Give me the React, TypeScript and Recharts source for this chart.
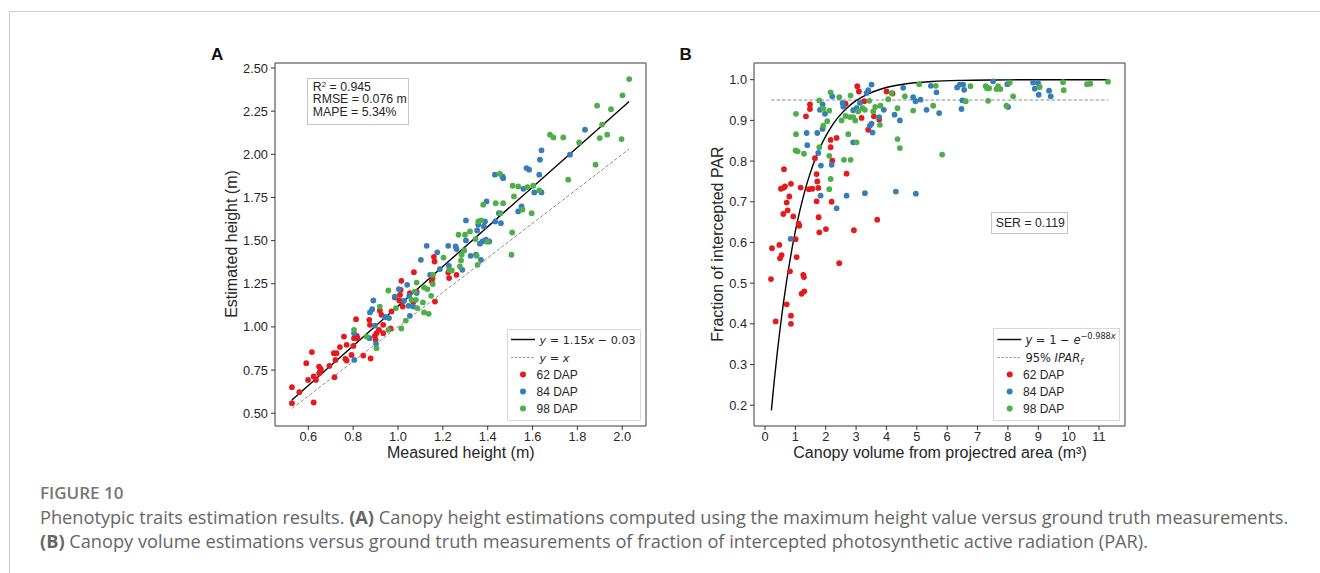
import React from 'react';
import { ComposedChart, Scatter, Line, XAxis, YAxis, ReferenceArea, Legend } from 'recharts';

const RED = '#e41a1c';
const BLUE = '#377eb8';
const GREEN = '#4daf4a';
const AXIS_FONT = '"Liberation Sans", Arial, sans-serif';
const MATH_FONT = '"DejaVu Sans", sans-serif';

// ---------- Panel A: measured height (m) vs estimated height (m) ----------
const heightDap62: [number, number][] = [
  [0.527, 0.651], [0.527, 0.558], [0.560, 0.622], [0.591, 0.790], [0.599, 0.693], [0.616, 0.854],
  [0.624, 0.713], [0.624, 0.562], [0.634, 0.693], [0.648, 0.770], [0.652, 0.742], [0.656, 0.755],
  [0.649, 0.732], [0.694, 0.774], [0.714, 0.848], [0.717, 0.709], [0.721, 0.809], [0.726, 0.848],
  [0.741, 0.883], [0.759, 0.944], [0.765, 0.815], [0.771, 0.896], [0.771, 0.805], [0.793, 0.838],
  [0.801, 0.890], [0.804, 0.935], [0.813, 1.045], [0.816, 0.948], [0.819, 0.935], [0.845, 0.834],
  [0.872, 1.041], [0.875, 1.012], [0.878, 0.817], [0.897, 0.948], [0.900, 0.925], [0.904, 0.964],
  [0.915, 0.983], [0.919, 1.095], [0.926, 1.070], [0.934, 1.012], [0.934, 0.964], [0.967, 0.991],
  [0.971, 1.090], [0.986, 1.171], [1.006, 1.153], [1.009, 1.186], [1.012, 1.215], [1.015, 1.267],
  [1.018, 1.147], [1.021, 1.118], [1.053, 1.196], [1.068, 1.144], [1.071, 1.317], [1.083, 1.205],
  [1.151, 1.263], [1.154, 1.283], [1.160, 1.406], [1.163, 1.379], [1.165, 1.147], [1.224, 1.315],
  [1.228, 1.283], [1.261, 1.302],
];
const heightDap84: [number, number][] = [
  [0.804, 0.964], [0.805, 0.809], [0.873, 0.935], [0.875, 1.084], [0.885, 1.103], [0.890, 1.153],
  [0.897, 1.008], [0.902, 0.902], [0.942, 1.057], [0.949, 1.057], [0.960, 1.051], [0.986, 1.176],
  [1.004, 1.219], [1.027, 1.151], [1.041, 1.244], [1.047, 1.122], [1.050, 1.180], [1.053, 1.064],
  [1.068, 1.118], [1.083, 1.196], [1.102, 1.389], [1.128, 1.470], [1.143, 1.302], [1.175, 1.432],
  [1.187, 1.335], [1.224, 1.470], [1.227, 1.354], [1.257, 1.466], [1.261, 1.451], [1.287, 1.331],
  [1.303, 1.617], [1.303, 1.501], [1.324, 1.412], [1.348, 1.418], [1.353, 1.559], [1.358, 1.592],
  [1.365, 1.482], [1.370, 1.389], [1.383, 1.582], [1.388, 1.611], [1.377, 1.495], [1.392, 1.505],
  [1.395, 1.727], [1.407, 1.495], [1.432, 1.882], [1.434, 1.611], [1.450, 1.659], [1.459, 1.601],
  [1.466, 1.872], [1.469, 1.862], [1.536, 1.669], [1.551, 1.698], [1.559, 1.800], [1.573, 1.920],
  [1.585, 1.911], [1.608, 1.779], [1.630, 1.882], [1.633, 1.969], [1.640, 2.023], [1.640, 1.779],
  [1.767, 1.998], [1.834, 2.143],
];
const heightDap98: [number, number][] = [
  [0.804, 0.983], [0.860, 0.944], [0.904, 0.877], [0.919, 1.118], [0.957, 1.211], [0.957, 0.983],
  [0.991, 1.109], [1.015, 0.991], [1.035, 1.037], [1.060, 1.157], [1.074, 1.205], [1.080, 1.157],
  [1.083, 1.257], [1.086, 1.109], [1.111, 1.142], [1.116, 1.229], [1.116, 1.084], [1.131, 1.219],
  [1.137, 1.076], [1.148, 1.180], [1.155, 1.248], [1.156, 1.302], [1.203, 1.402], [1.228, 1.331],
  [1.240, 1.327], [1.270, 1.534], [1.276, 1.350], [1.281, 1.385], [1.284, 1.418], [1.295, 1.443],
  [1.299, 1.534], [1.321, 1.553], [1.346, 1.509], [1.351, 1.412], [1.355, 1.360], [1.358, 1.611],
  [1.370, 1.617], [1.380, 1.708], [1.398, 1.493], [1.436, 1.717], [1.454, 1.888], [1.457, 1.659],
  [1.469, 1.717], [1.506, 1.418], [1.509, 1.547], [1.511, 1.818], [1.517, 1.756], [1.536, 1.814],
  [1.555, 1.679], [1.577, 1.810], [1.596, 1.659], [1.603, 1.818], [1.630, 1.791], [1.678, 2.114],
  [1.693, 2.098], [1.737, 2.098], [1.759, 1.853], [1.808, 2.069], [1.881, 1.940], [1.888, 2.282],
  [1.900, 2.094], [1.910, 2.172], [1.933, 2.114], [1.950, 2.261], [1.997, 2.088], [2.001, 2.342],
  [2.031, 2.436],
];
const fitSlopeA = 1.15;
const fitInterceptA = -0.03;
const fitRangeA = [0.527, 2.031];
const xTicksA = [0.6, 0.8, 1.0, 1.2, 1.4, 1.6, 1.8, 2.0];
const yTicksA = [0.5, 0.75, 1.0, 1.25, 1.5, 1.75, 2.0, 2.25, 2.5];
const xDomainA: [number, number] = [0.4515, 2.106];
const yDomainA: [number, number] = [0.426, 2.529];

// ---------- Panel B: canopy volume (m³) vs fraction of intercepted PAR ----------
const parDap62: [number, number][] = [
  [0.197, 0.510], [0.230, 0.586], [0.351, 0.406], [0.472, 0.594], [0.494, 0.561], [0.548, 0.569],
  [0.526, 0.732], [0.625, 0.735], [0.625, 0.780], [0.603, 0.670], [0.658, 0.738], [0.713, 0.698],
  [0.713, 0.448], [0.746, 0.679], [0.801, 0.713], [0.823, 0.529], [0.855, 0.744], [0.855, 0.420],
  [0.855, 0.400], [0.932, 0.664], [1.009, 0.608], [1.042, 0.564], [1.108, 0.646], [1.130, 0.641],
  [1.174, 0.735], [1.206, 0.474], [1.261, 0.520], [1.283, 0.515], [1.294, 0.480], [1.349, 0.910],
  [1.448, 0.731], [1.481, 0.939], [1.481, 0.928], [1.558, 0.732], [1.645, 0.807], [1.700, 0.768],
  [1.700, 0.701], [1.722, 0.750], [1.755, 0.734], [1.766, 0.662], [1.788, 0.625], [2.007, 0.633],
  [2.161, 0.834], [2.161, 0.852], [2.194, 0.700], [2.215, 0.801], [2.358, 0.857], [2.446, 0.549],
  [2.654, 0.941], [2.687, 0.769], [2.928, 0.630], [3.038, 0.984], [3.093, 0.971], [3.181, 0.906],
  [3.268, 0.947], [3.400, 0.877], [3.587, 0.910], [3.696, 0.656], [3.762, 0.902], [4.003, 0.971],
  [4.200, 0.966],
];
const parDap84: [number, number][] = [
  [0.844, 0.609], [1.371, 0.869], [1.393, 0.839], [1.722, 0.869], [1.755, 0.820], [1.810, 0.926],
  [1.832, 0.715], [1.842, 0.789], [1.897, 0.939], [1.897, 0.879], [1.974, 0.916], [2.194, 0.791],
  [2.215, 0.959], [2.358, 0.684], [2.555, 0.943], [2.577, 0.934], [2.687, 0.715], [2.906, 0.846],
  [2.906, 0.925], [3.016, 0.930], [3.126, 0.943], [3.290, 0.721], [3.345, 0.967], [3.400, 0.974],
  [3.455, 0.887], [3.510, 0.892], [3.510, 0.988], [3.543, 0.870], [3.762, 0.908], [3.915, 0.926],
  [4.266, 0.914], [4.310, 0.725], [4.442, 0.900], [4.551, 0.980], [4.880, 0.957], [4.957, 0.947],
  [4.968, 0.720], [5.122, 0.951], [5.319, 0.926], [5.462, 0.985], [5.648, 0.969], [5.736, 0.918],
  [6.328, 0.981], [6.416, 0.988], [6.471, 0.928], [6.526, 0.988], [6.559, 0.975], [6.504, 0.949],
  [7.513, 0.996], [7.984, 0.989], [8.006, 0.933], [8.829, 0.993], [8.884, 0.978], [8.993, 0.992],
  [9.015, 0.963], [9.355, 0.973], [9.410, 0.959],
];
const parDap98: [number, number][] = [
  [1.020, 0.916], [1.020, 0.866], [1.009, 0.826], [1.075, 0.824], [1.283, 0.818], [1.788, 0.949],
  [1.788, 0.834], [1.919, 0.929], [1.919, 0.887], [2.051, 0.898], [2.117, 0.924], [2.117, 0.813],
  [2.117, 0.731], [2.161, 0.969], [2.161, 0.756], [2.446, 0.957], [2.523, 0.900], [2.599, 0.803],
  [2.654, 0.911], [2.742, 0.866], [2.797, 0.908], [2.819, 0.961], [2.819, 0.803], [2.906, 0.908],
  [2.972, 0.900], [3.016, 0.846], [3.071, 0.922], [3.214, 0.930], [3.290, 0.926], [3.433, 0.948],
  [3.565, 0.922], [3.631, 0.933], [3.784, 0.889], [3.806, 0.936], [4.058, 0.952], [4.168, 0.967],
  [4.365, 0.930], [4.365, 0.854], [4.442, 0.832], [4.606, 0.959], [4.880, 0.924], [5.078, 0.989],
  [5.539, 0.936], [5.626, 0.985], [5.835, 0.816], [6.613, 0.947], [6.767, 0.984], [7.271, 0.984],
  [7.315, 0.979], [7.348, 0.948], [7.381, 0.979], [7.622, 0.977], [7.677, 0.984], [7.754, 0.977],
  [7.951, 0.936], [8.061, 0.993], [8.171, 0.959], [9.048, 0.982], [9.816, 0.994], [9.838, 0.974],
  [10.605, 0.989], [10.715, 0.990], [11.296, 0.995],
];
const fitRateB = 0.988;
const fitSampleXB = [0.21, 0.3, 0.4, 0.5, 0.6, 0.7, 0.8, 0.9, 1.0, 1.15, 1.3, 1.5, 1.7, 1.9, 2.1, 2.4, 2.7, 3.0, 3.4, 3.8, 4.3, 4.8, 5.5, 6.5, 7.5, 8.5, 9.5, 10.5, 11.3];
const ipar95Level = 0.95;
const ipar95Range = [0.2, 11.3];
const xTicksB = [0, 1, 2, 3, 4, 5, 6, 7, 8, 9, 10, 11];
const yTicksB = [0.2, 0.3, 0.4, 0.5, 0.6, 0.7, 0.8, 0.9, 1.0];
const xDomainB: [number, number] = [-0.362, 11.856];
const yDomainB: [number, number] = [0.149, 1.041];

// ---------- derived tables ----------
const toPts = (arr: [number, number][]) => arr.map(([x, y]) => ({ x, y }));
const fitLineA = fitRangeA.map((x) => ({ x, y: fitSlopeA * x + fitInterceptA }));
const identityA = fitRangeA.map((x) => ({ x, y: x }));
const fitCurveB = fitSampleXB.map((x) => ({ x, y: 1 - Math.exp(-fitRateB * x) }));
const iparLineB = ipar95Range.map((x) => ({ x, y: ipar95Level }));

const dot = (color: string) => (p: any) =>
  p.cx == null ? <g /> : <circle cx={p.cx} cy={p.cy} r={2.9} fill={color} />;

const tickStyle = { fill: '#262626', fontSize: 12.8, fontFamily: AXIS_FONT };

const LegendA = () => (
  <svg width={134} height={92} style={{ display: 'block' }}>
    <rect x={0.5} y={0.5} width={133} height={91} fill="#ffffff" fillOpacity={0.85} stroke="#d8d8d8" />
    <line x1={4} x2={28} y1={10.5} y2={10.5} stroke="#111" strokeWidth={1.5} />
    <text x={32.6} y={14.5} fontFamily={MATH_FONT} fontSize={11.2} fill="#262626" style={{ whiteSpace: 'pre' }}>
      <tspan fontStyle="italic">y</tspan>{' = 1.15'}<tspan fontStyle="italic">x</tspan>{' − 0.03'}
    </text>
    <line x1={4} x2={28} y1={28.5} y2={28.5} stroke="#999" strokeWidth={1} strokeDasharray="2.5 1.5" />
    <text x={32.6} y={32.5} fontFamily={MATH_FONT} fontSize={11.2} fill="#262626" style={{ whiteSpace: 'pre' }}>
      <tspan fontStyle="italic">y</tspan>{' = '}<tspan fontStyle="italic">x</tspan>
    </text>
    <circle cx={16} cy={45.5} r={3} fill={RED} />
    <circle cx={16} cy={62.5} r={3} fill={BLUE} />
    <circle cx={16} cy={79.5} r={3} fill={GREEN} />
    <text x={29.5} y={49.8} fontFamily={AXIS_FONT} fontSize={12} fill="#262626">62 DAP</text>
    <text x={29.5} y={66.8} fontFamily={AXIS_FONT} fontSize={12} fill="#262626">84 DAP</text>
    <text x={29.5} y={83.8} fontFamily={AXIS_FONT} fontSize={12} fill="#262626">98 DAP</text>
  </svg>
);

const LegendB = () => (
  <svg width={127} height={93} style={{ display: 'block' }}>
    <rect x={0.5} y={0.5} width={126} height={92} fill="#ffffff" fillOpacity={0.85} stroke="#d8d8d8" />
    <line x1={4.4} x2={28.4} y1={11.5} y2={11.5} stroke="#111" strokeWidth={1.5} />
    <text x={32.4} y={15.5} fontFamily={MATH_FONT} fontSize={11.5} fill="#262626" style={{ whiteSpace: 'pre' }}>
      <tspan fontStyle="italic">y</tspan>{' = 1 − '}<tspan fontStyle="italic">e</tspan>
      <tspan fontSize={8.2} dy={-5}>{'−0.988'}</tspan><tspan fontSize={8.2} fontStyle="italic">x</tspan>
    </text>
    <line x1={4.4} x2={28.4} y1={29.5} y2={29.5} stroke="#999" strokeWidth={1} strokeDasharray="2.5 1.5" />
    <text x={32.4} y={33.5} fontFamily={MATH_FONT} fontSize={11.5} fill="#262626" style={{ whiteSpace: 'pre' }}>
      {'95% '}<tspan fontStyle="italic">IPAR</tspan><tspan fontStyle="italic" fontSize={8.2} dy={3}>f</tspan>
    </text>
    <circle cx={16.7} cy={46.5} r={3} fill={RED} />
    <circle cx={16.7} cy={63.5} r={3} fill={BLUE} />
    <circle cx={16.7} cy={80.5} r={3} fill={GREEN} />
    <text x={30} y={50.8} fontFamily={AXIS_FONT} fontSize={12} fill="#262626">62 DAP</text>
    <text x={30} y={67.8} fontFamily={AXIS_FONT} fontSize={12} fill="#262626">84 DAP</text>
    <text x={30} y={84.8} fontFamily={AXIS_FONT} fontSize={12} fill="#262626">98 DAP</text>
  </svg>
);

const abs = (left: number, top: number, extra: React.CSSProperties = {}): React.CSSProperties => ({
  position: 'absolute',
  left,
  top,
  ...extra,
});

const axisTitle: React.CSSProperties = {
  fontFamily: AXIS_FONT,
  fontSize: 16,
  color: '#262626',
  whiteSpace: 'nowrap',
  lineHeight: '18px',
};

export default function App() {
  return (
    <div style={{ position: 'absolute', left: 0, top: 0, width: 1320, height: 573, background: '#fff', overflow: 'hidden' }}>
      {/* card border */}
      <div style={abs(9, 11, { width: 1320, height: 600, borderTop: '1px solid #cccccc', borderLeft: '1px solid #cccccc' })} />

      {/* Panel A */}
      <div style={abs(200, 40)}>
        <ComposedChart width={460} height={430} margin={{ top: 23, right: 14, bottom: 0, left: 15 }}>
          <XAxis
            type="number" dataKey="x" domain={xDomainA} ticks={xTicksA} allowDataOverflow interval={0}
            tickFormatter={(v: number) => v.toFixed(1)} height={44} axisLine={false}
            tickSize={4} tickMargin={2} tickLine={{ stroke: '#333' }} tick={tickStyle}
          />
          <YAxis
            type="number" dataKey="y" domain={yDomainA} ticks={yTicksA} allowDataOverflow interval={0}
            tickFormatter={(v: number) => v.toFixed(2)} width={60} axisLine={false}
            tickSize={4} tickMargin={3} tickLine={{ stroke: '#333' }} tick={tickStyle}
          />
          <Scatter name="62 DAP" data={toPts(heightDap62)} fill={RED} shape={dot(RED)} isAnimationActive={false} />
          <Scatter name="84 DAP" data={toPts(heightDap84)} fill={BLUE} shape={dot(BLUE)} isAnimationActive={false} />
          <Scatter name="98 DAP" data={toPts(heightDap98)} fill={GREEN} shape={dot(GREEN)} isAnimationActive={false} />
          <Line data={identityA} dataKey="y" type="linear" stroke="#8c8c8c" strokeWidth={1} strokeDasharray="3.5 2" dot={false} activeDot={false} isAnimationActive={false} />
          <Line data={fitLineA} dataKey="y" type="linear" stroke="#000" strokeWidth={1.4} dot={false} activeDot={false} isAnimationActive={false} />
          <ReferenceArea x1={xDomainA[0]} x2={xDomainA[1]} y1={yDomainA[0]} y2={yDomainA[1]} fill="none" fillOpacity={0} stroke="#3a3a3a" strokeWidth={1} ifOverflow="visible" />
          <Legend
            layout="horizontal" verticalAlign="middle" align="center" content={LegendA}
            wrapperStyle={{ left: 306.5, top: 289, width: 134, height: 92, bottom: 'auto' }}
          />
        </ComposedChart>
      </div>

      {/* Panel B */}
      <div style={abs(680, 40)}>
        <ComposedChart width={460} height={430} margin={{ top: 23, right: 15, bottom: 0, left: 14 }}>
          <XAxis
            type="number" dataKey="x" domain={xDomainB} ticks={xTicksB} allowDataOverflow interval={0}
            height={44} axisLine={false}
            tickSize={4} tickMargin={2} tickLine={{ stroke: '#333' }} tick={tickStyle}
          />
          <YAxis
            type="number" dataKey="y" domain={yDomainB} ticks={yTicksB} allowDataOverflow interval={0}
            tickFormatter={(v: number) => v.toFixed(1)} width={60} axisLine={false}
            tickSize={4} tickMargin={3} tickLine={{ stroke: '#333' }} tick={tickStyle}
          />
          <Scatter name="62 DAP" data={toPts(parDap62)} fill={RED} shape={dot(RED)} isAnimationActive={false} />
          <Scatter name="84 DAP" data={toPts(parDap84)} fill={BLUE} shape={dot(BLUE)} isAnimationActive={false} />
          <Scatter name="98 DAP" data={toPts(parDap98)} fill={GREEN} shape={dot(GREEN)} isAnimationActive={false} />
          <Line data={iparLineB} dataKey="y" type="linear" stroke="#8c8c8c" strokeWidth={1} strokeDasharray="3.5 2" dot={false} activeDot={false} isAnimationActive={false} />
          <Line data={fitCurveB} dataKey="y" type="monotone" stroke="#000" strokeWidth={1.4} dot={false} activeDot={false} isAnimationActive={false} />
          <ReferenceArea x1={xDomainB[0]} x2={xDomainB[1]} y1={yDomainB[0]} y2={yDomainB[1]} fill="none" fillOpacity={0} stroke="#3a3a3a" strokeWidth={1} ifOverflow="visible" />
          <Legend
            layout="horizontal" verticalAlign="middle" align="center" content={LegendB}
            wrapperStyle={{ left: 313, top: 288, width: 127, height: 93, bottom: 'auto' }}
          />
        </ComposedChart>
      </div>

      {/* Panel labels */}
      <div style={abs(211, 45.5, { fontFamily: AXIS_FONT, fontWeight: 700, fontSize: 17, lineHeight: '17px', color: '#111' })}>A</div>
      <div style={abs(679.5, 45.5, { fontFamily: AXIS_FONT, fontWeight: 700, fontSize: 17, lineHeight: '17px', color: '#111' })}>B</div>

      {/* Axis titles */}
      <div style={abs(460.8, 453.3, { ...axisTitle, transform: 'translate(-50%, -50%)' })}>Measured height (m)</div>
      <div style={abs(231.7, 244, { ...axisTitle, transform: 'translate(-50%, -50%) rotate(-90deg)' })}>Estimated height (m)</div>
      <div style={abs(940, 453.3, { ...axisTitle, transform: 'translate(-50%, -50%)' })}>Canopy volume from projectred area (m³)</div>
      <div style={abs(718.3, 244, { ...axisTitle, transform: 'translate(-50%, -50%) rotate(-90deg)' })}>Fraction of intercepted PAR</div>

      {/* Stats boxes */}
      <div style={abs(307.3, 77.7, { width: 101.7, height: 47.3, boxSizing: 'border-box', border: '1px solid #c4c4c4', background: '#fff', padding: '2px 0 0 4.5px', fontFamily: AXIS_FONT, fontSize: 12.3, lineHeight: '12.8px', color: '#262626', whiteSpace: 'nowrap' })}>
        <div>R<span style={{ fontSize: 8, verticalAlign: 'top', lineHeight: '8px' }}>2</span> = 0.945</div>
        <div>RMSE = 0.076 m</div>
        <div>MAPE = 5.34%</div>
      </div>
      <div style={abs(990.7, 212.3, { width: 77.6, height: 21.7, boxSizing: 'border-box', border: '1px solid #c4c4c4', background: '#fff', padding: '3px 0 0 4px', fontFamily: AXIS_FONT, fontSize: 12.3, lineHeight: '14px', color: '#262626', whiteSpace: 'nowrap' })}>
        SER = 0.119
      </div>

      {/* Caption */}
      <div style={abs(40, 482.5, { fontFamily: '"Open Sans", sans-serif', fontWeight: 600, fontSize: 17, lineHeight: '20px', color: '#767676' })}>FIGURE 10</div>
      <div style={abs(40, 505, { fontFamily: '"Open Sans", sans-serif', fontSize: 18.2, lineHeight: '24px', color: '#666666', whiteSpace: 'nowrap' })}>
        Phenotypic traits estimation results. <b style={{ fontWeight: 700 }}>(A)</b> Canopy height estimations computed using the maximum height value versus ground truth measurements.
        <br />
        <b style={{ fontWeight: 700 }}>(B)</b> Canopy volume estimations versus ground truth measurements of fraction of intercepted photosynthetic active radiation (PAR).
      </div>
    </div>
  );
}
